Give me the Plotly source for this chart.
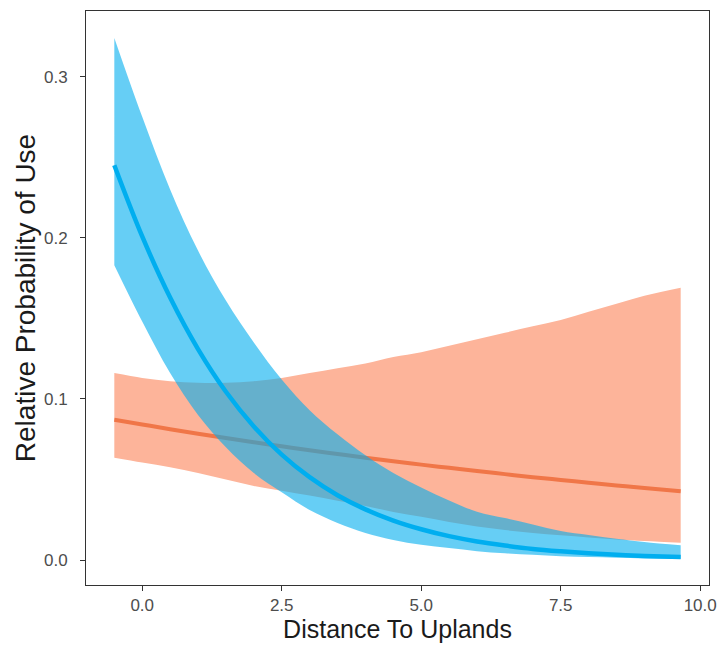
import plotly.graph_objects as go

x = [-0.5, 0.0, 0.5, 1.0, 1.5, 2.0, 2.5, 3.0, 3.5, 4.0, 4.5, 5.0, 5.5, 6.0, 6.5, 7.0, 7.5, 8.0, 8.5, 9.0, 9.65]

blue_mean = [0.245, 0.2008, 0.1629, 0.1309, 0.1044, 0.0829, 0.0654, 0.0514, 0.0402, 0.0314, 0.0245,
             0.0191, 0.0148, 0.0115, 0.0090, 0.0069, 0.0054, 0.0042, 0.0032, 0.0025, 0.0018]
blue_upper = [0.324, 0.275, 0.230, 0.192, 0.161, 0.135, 0.112, 0.093, 0.078, 0.065, 0.054,
              0.045, 0.037, 0.030, 0.026, 0.022, 0.018, 0.0155, 0.0132, 0.0112, 0.0092]
blue_lower = [0.183, 0.148, 0.116, 0.090, 0.070, 0.054, 0.042, 0.031, 0.023, 0.0168, 0.0125,
              0.0095, 0.0074, 0.0055, 0.0042, 0.0032, 0.0024, 0.0018, 0.0014, 0.0010, 0.0007]

orange_mean = [0.087, 0.0841, 0.0812, 0.0784, 0.0757, 0.0731, 0.0706, 0.0681, 0.0658, 0.0635, 0.0613,
               0.0592, 0.0572, 0.0552, 0.0533, 0.0514, 0.0497, 0.0480, 0.0463, 0.0447, 0.0427]
orange_upper = [0.116, 0.113, 0.111, 0.110, 0.110, 0.111, 0.113, 0.116, 0.119, 0.122, 0.126,
                0.129, 0.133, 0.137, 0.141, 0.145, 0.149, 0.154, 0.159, 0.164, 0.169]
orange_lower = [0.0635, 0.0605, 0.0575, 0.0540, 0.0500, 0.0460, 0.0430, 0.0400, 0.0368, 0.0336, 0.0298,
                0.0268, 0.0236, 0.0208, 0.0186, 0.0168, 0.0153, 0.0140, 0.0128, 0.0118, 0.0107]

x_ticks = [0.0, 2.5, 5.0, 7.5, 10.0]
y_ticks = [0.0, 0.1, 0.2, 0.3]

BLUE_LINE = "rgb(0,174,239)"
BLUE_FILL = "rgba(0,173,238,0.6)"
ORANGE_LINE = "rgb(240,118,72)"
ORANGE_FILL = "rgb(253,180,154)"
FONT = "Liberation Sans, Arial, sans-serif"

fig = go.Figure()

# orange ribbon
fig.add_trace(go.Scatter(x=x, y=orange_lower, mode="lines", line=dict(width=0, shape="spline"),
                         hoverinfo="skip", showlegend=False))
fig.add_trace(go.Scatter(x=x, y=orange_upper, mode="lines", line=dict(width=0, shape="spline"),
                         fill="tonexty", fillcolor=ORANGE_FILL, hoverinfo="skip", showlegend=False))
fig.add_trace(go.Scatter(x=x, y=orange_mean, mode="lines",
                         line=dict(color=ORANGE_LINE, width=4, shape="spline"), showlegend=False))
# blue ribbon
fig.add_trace(go.Scatter(x=x, y=blue_lower, mode="lines", line=dict(width=0, shape="spline"),
                         hoverinfo="skip", showlegend=False))
fig.add_trace(go.Scatter(x=x, y=blue_upper, mode="lines", line=dict(width=0, shape="spline"),
                         fill="tonexty", fillcolor=BLUE_FILL, hoverinfo="skip", showlegend=False))
fig.add_trace(go.Scatter(x=x, y=blue_mean, mode="lines",
                         line=dict(color=BLUE_LINE, width=4.5, shape="spline"), showlegend=False))

axis_common = dict(
    showgrid=False, zeroline=False, showline=True, linecolor="#333333", linewidth=1,
    mirror=True, ticks="outside", ticklen=5, tickcolor="#333333", tickwidth=1,
    tickfont=dict(family=FONT, size=17, color="#4D4D4D"),
    tickformat=".1f",
)

fig.update_layout(
    width=727, height=653,
    margin=dict(l=86, r=14, t=10, b=68),
    paper_bgcolor="white", plot_bgcolor="white",
    font=dict(family=FONT),
    xaxis=dict(range=[-1.0075, 10.1575], tickvals=x_ticks,
               title=dict(text="Distance To Uplands", standoff=4,
                          font=dict(family=FONT, size=25, color="#1a1a1a")),
               **axis_common),
    yaxis=dict(range=[-0.0155, 0.3407], tickvals=y_ticks, ticklabelstandoff=9,
               title=dict(text="Relative Probability of Use", standoff=0,
                          font=dict(family=FONT, size=28, color="#1a1a1a")),
               **axis_common),
)

fig.write_html("out.html")
